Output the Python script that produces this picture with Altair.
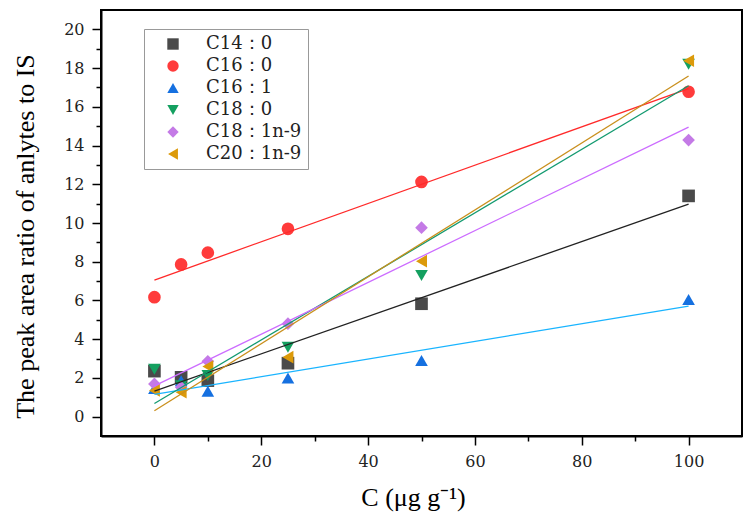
import altair as alt
import pandas as pd

conc = [0, 5, 10, 25, 50, 100]
series_names = ["C14：0", "C16：0", "C16：1", "C18：0", "C18：1n-9", "C20：1n-9"]
c14_0 = [2.35, 2.03, 1.86, 2.76, 5.83, 11.40]
c16_0 = [6.17, 7.86, 8.47, 9.70, 12.12, 16.78]
c16_1 = [1.45, 1.85, 1.31, 2.00, 2.90, 6.05]
c18_0 = [2.45, 1.60, 2.12, 3.58, 7.29, 18.20]
c18_1n9 = [1.69, 1.52, 2.86, 4.80, 9.76, 14.28]
c20_1n9 = [1.35, 1.26, 2.59, 3.07, 8.03, 18.38]

marker_colors = ["#4a4a4a", "#ff3b3b", "#1570e0", "#14a060", "#c47ae6", "#dc9a0a"]
line_colors = ["#222222", "#ff2a2a", "#19b4ff", "#139a70", "#cc6cff", "#c98f1c"]
shapes = ["square", "circle", "triangle-up", "triangle-down", "diamond", "triangle-left"]

y_ticks = list(range(0, 21))
x_ticks = list(range(0, 101, 10))

all_values = [c14_0, c16_0, c16_1, c18_0, c18_1n9, c20_1n9]
rows = []
for name, lc, vals in zip(series_names, line_colors, all_values):
    for c, v in zip(conc, vals):
        rows.append({"series": name, "lcolor": lc, "conc": c, "value": v})
df = pd.DataFrame(rows)

x_enc = alt.X(
    "conc:Q",
    scale=alt.Scale(domain=[-10, 110], nice=False, zero=False),
    axis=alt.Axis(
        values=x_ticks,
        labelExpr="datum.value % 20 == 0 ? datum.label : ''",
        tickSize=alt.condition("datum.value % 20 != 0", alt.value(5), alt.value(9)),
        labelPadding=8,
        title="C (μg g⁻¹)",
        titlePadding=15,
        titleFontSize=26,
        titleX=312,
    ),
)
y_enc = alt.Y(
    "value:Q",
    scale=alt.Scale(domain=[-1, 21], nice=False, zero=False),
    axis=alt.Axis(
        values=y_ticks,
        labelExpr="datum.value % 2 == 0 ? datum.label : ''",
        tickSize=alt.condition("datum.value % 2 != 0", alt.value(5), alt.value(9)),
        labelPadding=8,
        title="The peak area ratio of anlytes to IS",
        titlePadding=25,
        titleFontSize=26,
        titleY=226,
    ),
)

legend = alt.Legend(
    title=None,
    orient="none",
    legendX=43,
    legendY=19,
    strokeColor="#999999",
    fillColor="white",
    padding=6,
    symbolOffset=14,
    symbolSize=130,
    symbolStrokeWidth=0,
    labelFont="DejaVu Serif",
    labelFontSize=18,
    labelColor="#222222",
    labelOffset=24,
    rowPadding=4,
)

points = alt.Chart(df).mark_point(filled=True, size=160, opacity=1).encode(
    x=x_enc,
    y=y_enc,
    color=alt.Color("series:N", scale=alt.Scale(domain=series_names, range=marker_colors), legend=legend),
    shape=alt.Shape("series:N", scale=alt.Scale(domain=series_names, range=shapes), legend=legend),
)

lines = alt.Chart(df).transform_regression(
    "conc", "value", groupby=["series", "lcolor"], extent=[0, 100]
).mark_line(strokeWidth=1.3).encode(
    x=x_enc,
    y=y_enc,
    color=alt.Color("lcolor:N", scale=None),
    detail="series:N",
)

chart = alt.layer(points, lines).properties(
    width=641,
    height=426,
    autosize=alt.AutoSizeParams(type="none"),
    padding={"left": 93, "top": 2, "right": 2, "bottom": 79},
).configure_view(
    stroke="black", strokeWidth=2
).configure_axis(
    domainColor="black",
    domainWidth=2,
    tickColor="black",
    tickWidth=1.5,
    grid=False,
    labelFont="DejaVu Serif",
    labelFontSize=16,
    labelColor="#222222",
    titleFont="Liberation Serif",
    titleFontWeight="normal",
    titleColor="black",
)

chart.save("out.html", embed_options={"renderer": "svg", "actions": False})
